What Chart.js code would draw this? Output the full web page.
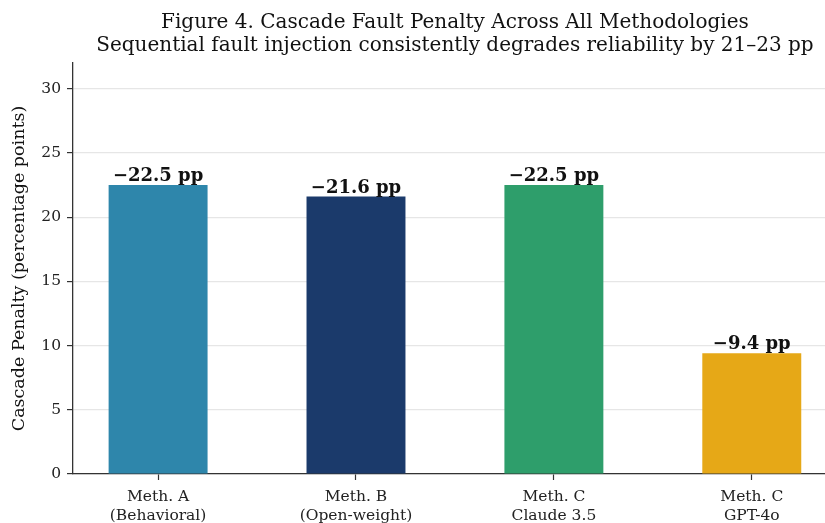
<!DOCTYPE html>
<html lang="en">
<head>
<meta charset="UTF-8">
<title>Cascade Fault Penalty</title>
<script src="https://cdn.jsdelivr.net/npm/chart.js"></script>
<style>
  html, body { margin: 0; padding: 0; background: #fff; }
  #wrap { width: 825px; height: 523px; }
</style>
</head>
<body>
<div id="wrap"><canvas id="myChart"></canvas></div>
<script>
// data
var methods = [['Meth. A', '(Behavioral)'], ['Meth. B', '(Open-weight)'], ['Meth. C', 'Claude 3.5'], ['Meth. C', 'GPT-4o']];
var penalty = [22.5, 21.6, 22.5, 9.4];
var barLabels = ['\u221222.5 pp', '\u221221.6 pp', '\u221222.5 pp', '\u22129.4 pp'];
var barColors = ['#2E86AB', '#1B3A6B', '#2E9E6B', '#E6A817'];
var yTicks = [0, 5, 10, 15, 20, 25, 30];

var serif = "'DejaVu Serif', serif";

// two line title, centred over the axes (which run past the right edge)
var titlePlugin = {
  id: 'figTitle',
  afterDraw: function (chart) {
    var c = chart.ctx;
    var cx = chart.scales.x.getPixelForValue(1.5);
    c.save();
    c.fillStyle = '#111';
    c.font = '20px ' + serif;
    c.textAlign = 'center';
    c.textBaseline = 'middle';
    c.fillText('Figure 4. Cascade Fault Penalty Across All Methodologies', cx, 23);
    c.fillText('Sequential fault injection consistently degrades reliability by 21\u201323 pp', cx, 46);
    c.restore();
  }
};

// value labels on top of each bar
var barLabelPlugin = {
  id: 'barLabels',
  afterDatasetsDraw: function (chart) {
    var c = chart.ctx;
    var meta = chart.getDatasetMeta(0);
    c.save();
    c.fillStyle = '#111';
    c.font = 'bold 18px ' + serif;
    c.textAlign = 'center';
    c.textBaseline = 'alphabetic';
    meta.data.forEach(function (bar, i) {
      c.fillText(barLabels[i], bar.x, bar.y - 4);
    });
    c.restore();
  }
};

var ctx = document.getElementById('myChart').getContext('2d');
var myChart = new Chart(ctx, {
  type: 'bar',
  data: {
    datasets: [{
      data: penalty.map(function (v, i) { return { x: i, y: v }; }),
      backgroundColor: barColors,
      borderWidth: 0,
      categoryPercentage: 1.0,
      barPercentage: 0.5
    }]
  },
  options: {
    responsive: true,
    maintainAspectRatio: false,
    animation: false,
    layout: { padding: { top: 63, left: 0, right: 0, bottom: 0 } },
    plugins: {
      legend: { display: false },
      title: { display: false },
      tooltip: { enabled: false }
    },
    scales: {
      x: {
        type: 'linear',
        min: -0.43,
        max: 3.37,
        offset: false,
        afterBuildTicks: function (scale) {
          scale.ticks = methods.map(function (m, i) { return { value: i }; });
        },
        afterFit: function (scale) { scale.height = 49; },
        ticks: {
          autoSkip: false,
          maxRotation: 0,
          padding: 8,
          color: '#222',
          font: { family: serif, size: 15.5, lineHeight: 1.22 },
          callback: function (v) { return methods[v]; }
        },
        grid: { offset: false, drawOnChartArea: false, tickLength: 6, tickColor: '#333', tickWidth: 1.2 },
        border: { display: true, color: '#333', width: 1.3 }
      },
      y: {
        min: 0,
        max: 32,
        afterBuildTicks: function (scale) {
          scale.ticks = yTicks.map(function (t) { return { value: t }; });
        },
        afterFit: function (scale) { scale.width = 73; },
        ticks: {
          padding: 6,
          color: '#222',
          font: { family: serif, size: 15.5 }
        },
        grid: { color: '#e6e6e6', lineWidth: 1.2, tickLength: 6, tickColor: '#333', tickWidth: 1.2 },
        border: { display: true, color: '#333', width: 1.3 },
        title: {
          display: true,
          text: 'Cascade Penalty (percentage points)',
          color: '#111',
          font: { family: serif, size: 17.5 },
          padding: { top: 9, bottom: 0 }
        }
      }
    }
  },
  plugins: [titlePlugin, barLabelPlugin]
});
</script>
</body>
</html>
